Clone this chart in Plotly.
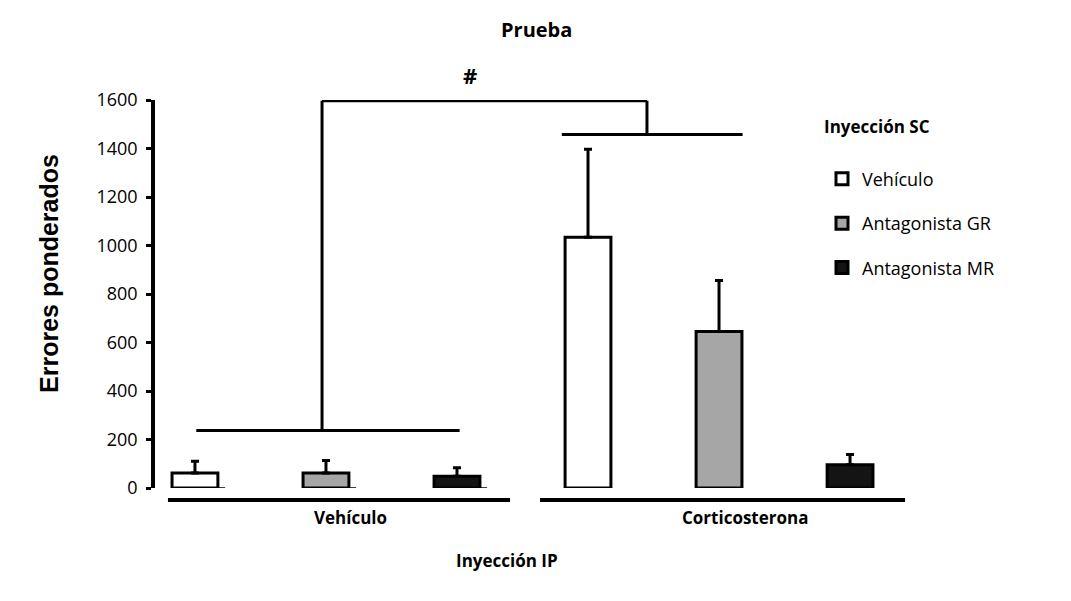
import plotly.graph_objects as go

# Inyección IP groups and Inyección SC treatments
ip_groups = ["Vehículo", "Corticosterona"]
sc_treatments = ["Vehículo", "Antagonista GR", "Antagonista MR"]

# mean weighted errors per IP group, one list per SC treatment
vehiculo_mean = [62, 1034]
gr_mean = [62, 645]
mr_mean = [48, 96]

# upper error (SEM) per IP group
vehiculo_err = [48, 363]
gr_err = [51, 211]
mr_err = [35, 42]

y_ticks = [0, 200, 400, 600, 800, 1000, 1200, 1400, 1600]

means = [vehiculo_mean, gr_mean, mr_mean]
errs = [vehiculo_err, gr_err, mr_err]
colors = ["white", "#a6a6a6", "#141414"]

# plot area on the page: left 155, right 920, top 100, bottom 488
def px_x(px):
    return (px - 155) / 765


def px_y(py):
    return (488 - py) / 388


BAR_W = 0.35
fig = go.Figure()
for i, name in enumerate(sc_treatments):
    xs = [g * 3 + i for g in range(len(ip_groups))]
    fig.add_bar(
        x=xs, y=means[i], name=name, width=BAR_W,
        marker=dict(color=colors[i], line=dict(color="black", width=3)),
        error_y=dict(type="data", array=errs[i], arrayminus=[0] * len(xs),
                     symmetric=False, color="black", thickness=3, width=4),
        legendgroup=name,
    )

# little baseline tails to the right of the vehicle-group bars
shapes = []
for i in range(len(sc_treatments)):
    shapes.append(dict(type="line", xref="x", yref="y",
                       x0=i + BAR_W / 2, x1=i + BAR_W / 2 + 0.055, y0=0, y1=0,
                       line=dict(color="black", width=1.5)))

# thick group baselines under each IP group
for x0, x1 in [(-0.206, 2.405), (2.634, 5.42)]:
    shapes.append(dict(type="line", xref="x", yref="paper", x0=x0, x1=x1,
                       y0=px_y(500), y1=px_y(500),
                       line=dict(color="black", width=4)))

# significance bracket
blk = dict(color="black", width=3)
shapes += [
    dict(type="line", xref="x", yref="y", x0=0.01, x1=2.02, y0=237, y1=237, line=blk),
    dict(type="line", xref="x", yref="y", x0=0.97, x1=0.97, y0=237, y1=1597, line=blk),
    dict(type="line", xref="x", yref="y", x0=0.97, x1=3.45, y0=1597, y1=1597, line=blk),
    dict(type="line", xref="x", yref="y", x0=3.45, x1=3.45, y0=1458, y1=1597, line=blk),
    dict(type="line", xref="x", yref="y", x0=2.8, x1=4.18, y0=1458, y1=1458, line=blk),
]

bold = dict(family="Open Sans", size=17, color="black", weight="bold")
mid = dict(showarrow=False, xanchor="center", yanchor="middle",
           xref="paper", yref="paper")
annotations = [
    dict(text="Prueba", x=px_x(536), y=px_y(30), font=dict(bold, size=20), **mid),
    dict(text="#", x=px_x(470), y=px_y(75), font=dict(bold, size=22), **mid),
    dict(text=ip_groups[0], x=px_x(350), y=px_y(517), font=bold, **mid),
    dict(text=ip_groups[1], x=px_x(745), y=px_y(517), font=bold, **mid),
    dict(text="Inyección IP", x=px_x(507), y=px_y(560),
         font=dict(bold, size=17), **mid),
    dict(text="Errores ponderados", x=px_x(49), y=px_y(274), textangle=-90,
         font=dict(family="Liberation Sans", size=25, color="black",
                   weight="bold"), **mid),
]

fig.update_layout(
    # page body adds an 8px offset, so the figure is drawn 8px smaller
    width=1063, height=593,
    margin=dict(l=147, r=151, t=92, b=113),
    plot_bgcolor="white", paper_bgcolor="white",
    shapes=shapes, annotations=annotations,
    showlegend=True,
    legend=dict(
        x=px_x(822), y=px_y(106), xanchor="left", yanchor="top",
        title=dict(text="<span style='font-size:17px'>Inyección SC</span><br> ",
                   font=dict(bold, size=21)),
        font=dict(family="Open Sans", size=18, color="black"),
        tracegroupgap=18, traceorder="grouped",
    ),
)
fig.update_xaxes(range=[-0.305, 5.534], visible=False)
fig.update_yaxes(
    range=[0, 1600], tickvals=y_ticks, showgrid=False, zeroline=False,
    showline=True, linecolor="black", linewidth=3.5,
    ticks="outside", ticklen=5, tickwidth=3, tickcolor="black",
    ticklabelstandoff=5,
    tickfont=dict(family="Open Sans", size=18, color="black"),
)

fig.write_html("out.html")
